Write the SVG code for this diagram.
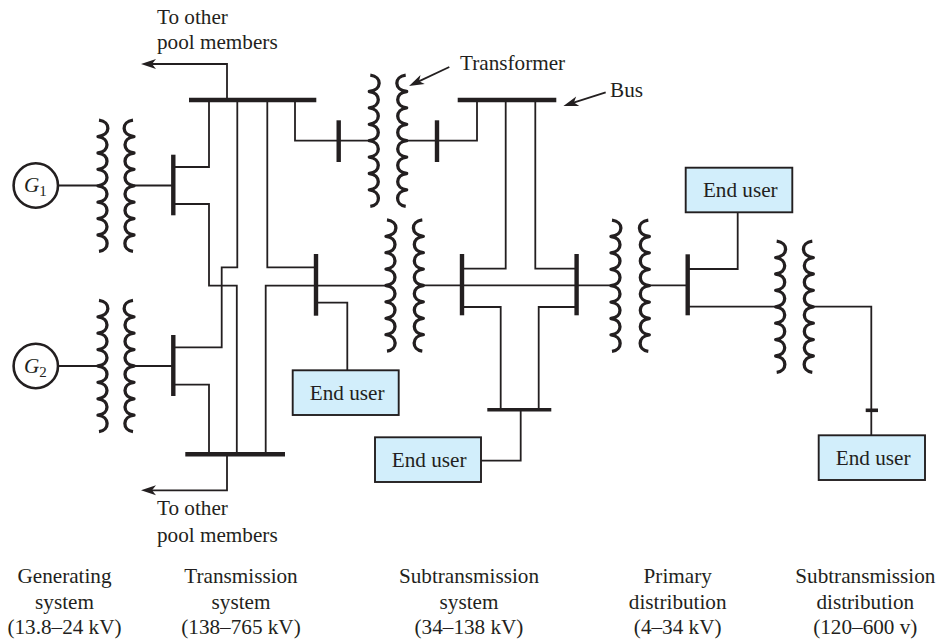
<svg xmlns="http://www.w3.org/2000/svg" xmlns:xlink="http://www.w3.org/1999/xlink" width="939" height="639" viewBox="0 0 939 639">
<style>
text{font-family:"Liberation Serif","Times New Roman",serif;font-size:21.2px;fill:#231f20}
.c{text-anchor:middle}
.w{fill:none;stroke:#231f20;stroke-width:1.8}
.bus{stroke:#231f20;stroke-width:4.4;fill:none}
.coil{fill:none;stroke:#231f20;stroke-width:3.3;stroke-linejoin:round;stroke-linecap:butt}
.gen{fill:#fff;stroke:#231f20;stroke-width:2.6}
.box{fill:#d2eefb;stroke:#231f20;stroke-width:1.9}
.i{font-style:italic}
.sub{font-size:15px}
</style>
<defs>
<marker id="ah" markerUnits="userSpaceOnUse" markerWidth="20" markerHeight="14" refX="6" refY="7" orient="auto" overflow="visible">
<path d="M15,7 L0,2 L4,7 L0,12Z" fill="#231f20"/>
</marker>
<path id="coilL" class="coil" d="M1,-65.6c12,1.5 12,14.9 -1,16.4c12,1.5 12,14.9 0,16.4c12,1.5 12,14.9 0,16.4c12,1.5 12,14.9 0,16.4c12,1.5 12,14.9 0,16.4c12,1.5 12,14.9 0,16.4c12,1.5 12,14.9 0,16.4c12,1.5 12,14.9 1,16.4"/>
<path id="coilR" class="coil" d="M-1,-65.6c-12,1.5 -12,14.9 1,16.4c-12,1.5 -12,14.9 0,16.4c-12,1.5 -12,14.9 0,16.4c-12,1.5 -12,14.9 0,16.4c-12,1.5 -12,14.9 0,16.4c-12,1.5 -12,14.9 0,16.4c-12,1.5 -12,14.9 0,16.4c-12,1.5 -12,14.9 -1,16.4"/>
</defs>
<g id="connectors">
<path class="w" d="M59,185.5H98"/>
<path class="w" d="M59,366H98"/>
<path class="w" d="M134,185.5H173"/>
<path class="w" d="M134,366H173"/>
<path class="w" d="M173,167H209V100"/>
<path class="w" d="M173,204H209V285.7H236.8V454"/>
<path class="w" d="M237.3,100V267.3H221.7V347.3H173"/>
<path class="w" d="M267.3,100V267.3H316"/>
<path class="w" d="M265.7,454V285.6H386"/>
<path class="w" d="M173,384.7H209V454"/>
<path class="w" d="M316,302.7H347.3V370"/>
<path class="w" d="M295,100V140.7H369"/>
<path class="w" d="M407,140.7H477V100"/>
<path class="w" d="M505.7,100V268.7H462"/>
<path class="w" d="M535.3,100V268.7H576.5"/>
<path class="w" d="M423,285.4H611"/>
<path class="w" d="M462,307H500.7V409.7"/>
<path class="w" d="M576.5,307H538.7V409.7"/>
<path class="w" d="M520.7,409.7V460.7H481"/>
<path class="w" d="M649,285.4H687.7"/>
<path class="w" d="M687.7,269H737.7V212.3"/>
<path class="w" d="M687.7,306.7H776"/>
<path class="w" d="M813,306.7H871.3V435.3"/>
<path class="w" d="M227,100V64H150" marker-end="url(#ah)"/>
<path class="w" d="M227,454V490.3H150" marker-end="url(#ah)"/>
<path class="w" d="M449.3,67L417.2,82.1" marker-end="url(#ah)"/>
<path class="w" d="M605.7,92.3L572,103.2" marker-end="url(#ah)"/>
</g>
<g id="G1"><circle class="gen" cx="35.8" cy="185.5" r="22.2"/><text x="24" y="192" class="i">G<tspan class="sub" dy="4" font-style="normal">1</tspan></text></g>
<g id="G2"><circle class="gen" cx="35.8" cy="366" r="22.2"/><text x="24" y="372.5" class="i">G<tspan class="sub" dy="4" font-style="normal">2</tspan></text></g>
<g id="transformer1"><use xlink:href="#coilL" href="#coilL" x="98" y="185.8"/><use xlink:href="#coilR" href="#coilR" x="134" y="185.8"/></g>
<g id="transformer2"><use xlink:href="#coilL" href="#coilL" x="98" y="366"/><use xlink:href="#coilR" href="#coilR" x="134" y="366"/></g>
<g id="transformer3"><use xlink:href="#coilL" href="#coilL" x="369.3" y="140.7"/><use xlink:href="#coilR" href="#coilR" x="406.7" y="140.7"/></g>
<g id="transformer4"><use xlink:href="#coilL" href="#coilL" x="386" y="285.5"/><use xlink:href="#coilR" href="#coilR" x="423.3" y="285.5"/></g>
<g id="transformer5"><use xlink:href="#coilL" href="#coilL" x="611" y="285.7"/><use xlink:href="#coilR" href="#coilR" x="649.3" y="285.7"/></g>
<g id="transformer6"><use xlink:href="#coilL" href="#coilL" x="775.7" y="306.8"/><use xlink:href="#coilR" href="#coilR" x="813.3" y="306.8"/></g>
<g id="bus-top-left"><path class="bus" d="M189,100H316.3"/></g>
<g id="bus-top-right"><path class="bus" d="M457.7,100H556.3"/></g>
<g id="bus-bottom-left"><path class="bus" d="M185.3,454.3H285"/></g>
<g id="bus-sub-bottom"><path class="bus" style="stroke-width:3.6" d="M487.3,409.7H551.3"/></g>
<g id="bus-g1"><path class="bus" d="M173.3,154.7V215.3"/></g>
<g id="bus-g2"><path class="bus" d="M173.3,335V396"/></g>
<g id="bus-tx"><path class="bus" d="M316,254V315.7"/></g>
<g id="bus-t3a"><path class="bus" d="M338.7,120.3V162"/></g>
<g id="bus-t3b"><path class="bus" d="M437,120.3V162"/></g>
<g id="bus-sub-left"><path class="bus" d="M462,254V315.3"/></g>
<g id="bus-sub-right"><path class="bus" d="M576.6,254V315.3"/></g>
<g id="bus-primary"><path class="bus" d="M687.7,254.3V315.3"/></g>
<g id="bus-final"><path class="bus" style="stroke-width:3.6" d="M865.7,410.3H878"/></g>
<g id="enduser1"><rect class="box" x="292.7" y="370.3" width="106" height="44.7"/><text class="c" x="347.2" y="400">End user</text></g>
<g id="enduser2"><rect class="box" x="375" y="437.3" width="106" height="44.7"/><text class="c" x="429.2" y="466.7">End user</text></g>
<g id="enduser3"><rect class="box" x="685.7" y="167.7" width="106.6" height="44.6"/><text class="c" x="740.3" y="196.7">End user</text></g>
<g id="enduser4"><rect class="box" x="818.7" y="435.3" width="106.3" height="44.7"/><text class="c" x="873.2" y="465">End user</text></g>
<g id="labels">
<text x="157" y="24">To other</text>
<text x="157" y="49.3">pool members</text>
<text x="157" y="515">To other</text>
<text x="157" y="541.7">pool members</text>
<text x="460" y="70">Transformer</text>
<text x="610" y="97">Bus</text>
<text class="c" x="64.5" y="583.3">Generating</text>
<text class="c" x="64.5" y="609.3">system</text>
<text class="c" x="64.5" y="634">(13.8–24 kV)</text>
<text class="c" x="241" y="583.3">Transmission</text>
<text class="c" x="241" y="609.3">system</text>
<text class="c" x="241" y="634">(138–765 kV)</text>
<text class="c" x="469" y="583.3">Subtransmission</text>
<text class="c" x="469" y="609.3">system</text>
<text class="c" x="469" y="634">(34–138 kV)</text>
<text class="c" x="677.7" y="583.3">Primary</text>
<text class="c" x="677.7" y="609.3">distribution</text>
<text class="c" x="677.7" y="634">(4–34 kV)</text>
<text class="c" x="865.3" y="583.3">Subtransmission</text>
<text class="c" x="865.3" y="609.3">distribution</text>
<text class="c" x="865.3" y="634">(120–600 v)</text>
</g>
</svg>
